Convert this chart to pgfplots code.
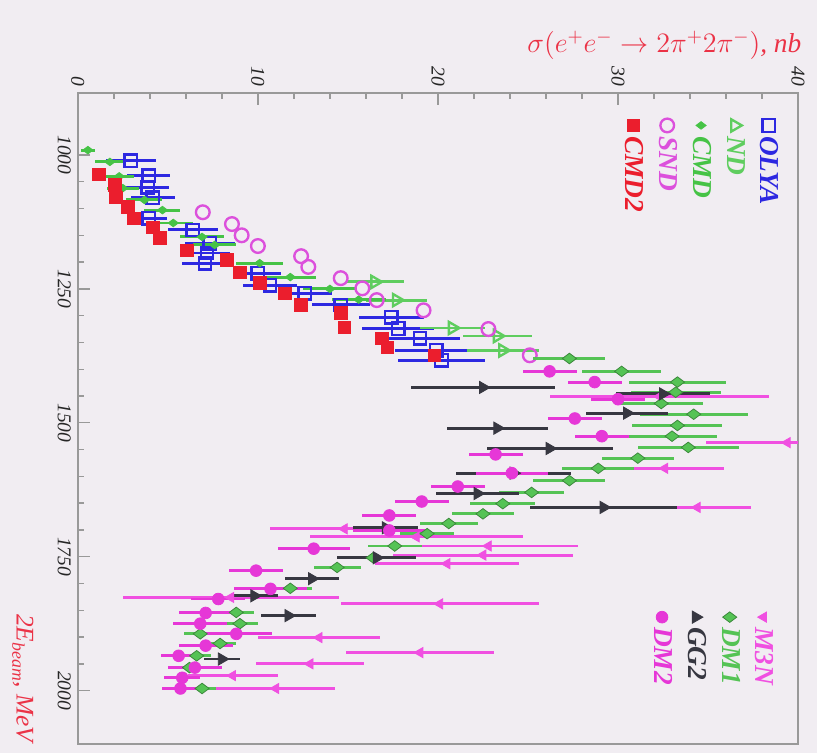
\documentclass[border=0pt]{standalone}
\usepackage{fontspec}
\setmainfont{Liberation Serif}
\usepackage{graphicx}
\usepackage{xcolor}
\usepackage{pgfplots}
\pgfplotsset{compat=1.18}
\usetikzlibrary{backgrounds}

\definecolor{bg}{RGB}{241,237,242}
\definecolor{olya}{RGB}{45,40,225}
\definecolor{ndg}{RGB}{95,205,95}
\definecolor{cmdg}{RGB}{70,195,70}
\definecolor{snd}{RGB}{220,80,220}
\definecolor{cmdtwo}{RGB}{235,30,45}
\definecolor{mthreen}{RGB}{240,80,225}
\definecolor{dmone}{RGB}{85,195,85}
\definecolor{ggtwo}{RGB}{55,55,65}
\definecolor{dmtwo}{RGB}{230,55,215}
\definecolor{ttl}{RGB}{235,50,70}

\pgfplotsset{
  ebar/.style={error bars/.cd, y dir=both, y explicit, error mark=none,
    error bar style={line width=1.5pt}},
}

\begin{document}
\rotatebox{-90}{%
\begin{tikzpicture}[show background rectangle, inner frame sep=0pt,
  background rectangle/.style={fill=bg, draw=none}]
\path[use as bounding box] (0,0) rectangle (135.5mm,147mm);

\begin{axis}[
  at={(16.7mm,14mm)}, anchor=south west,
  scale only axis, width=117.2mm, height=129.6mm,
  xmin=884, xmax=2100, ymin=0, ymax=40,
  xtick={1000,1250,1500,1750,2000}, ytick={0,10,20,30,40},
  minor x tick num=4, minor y tick num=4,
  tick pos=left,
  major tick length=2.2mm, minor tick length=1.2mm,
  axis line style={gray!80, line width=0.9pt},
  every tick/.style={gray!80, line width=0.7pt},
  /pgf/number format/assume math mode=true,
  /pgf/number format/1000 sep={},
  xticklabel style={font=\itshape\fontsize{10}{12}\selectfont, text=gray!30!black},
  yticklabel style={font=\itshape\fontsize{10}{12}\selectfont, text=gray!30!black},
  xlabel={2E\textsubscript{beam}, MeV},
  xlabel style={at={(rel axis cs:1.008,-0.052)}, anchor=north east,
    font=\itshape\fontsize{13}{15}\selectfont, text=ttl},
  ylabel={$\sigma(e^{+}e^{-}\rightarrow 2\pi^{+}2\pi^{-})$, nb},
  ylabel style={at={(rel axis cs:-0.04,1.014)}, anchor=south east,
    font=\itshape\fontsize{14}{16}\selectfont, text=ttl},
  legend style={at={(rel axis cs:0.03,0.985)}, anchor=north west,
    draw=none, fill=none, row sep=0.9mm,
    font=\bfseries\itshape\fontsize{14}{16}\selectfont},
  legend cell align=left,
]
% OLYA
\addplot[only marks, mark=square, mark size=3.2pt, olya, line width=1.2pt, ebar]
coordinates {
(1011,2.94) +- (0,1.4) (1039,3.94) +- (0,1.2) (1060,3.89) +- (0,1.2)
(1080,4.17) +- (0,1.2) (1118,3.94) +- (0,1.0) (1140,6.39) +- (0,1.4)
(1165,7.33) +- (0,1.4) (1183,7.17) +- (0,1.3) (1202,7.06) +- (0,1.3)
(1221,10.0) +- (0,1.3) (1243,10.67) +- (0,1.5) (1258,12.6) +- (0,1.5)
(1280,14.6) +- (0,1.6) (1303,17.4) +- (0,1.8) (1324,17.8) +- (0,2.0)
(1342,19.0) +- (0,2.2) (1365,19.9) +- (0,2.3) (1383,20.2) +- (0,2.4)
};
\addlegendentry{\textcolor{olya}{OLYA}}
% ND
\addplot[only marks, mark=triangle, mark size=3.6pt, ndg, line width=1.2pt, ebar]
coordinates {
(1237,16.5) +- (0,1.6) (1271,17.7) +- (0,1.7) (1323,20.8) +- (0,1.8)
(1338,23.3) +- (0,1.9) (1365,23.6) +- (0,2.0)
};
\addlegendentry{\textcolor{ndg}{ND}}
% CMD
\addplot[only marks, mark=diamond*, mark size=2.6pt, cmdg, ebar]
coordinates {
(991,0.56) +- (0,0.4) (1013,1.78) +- (0,0.8) (1040,2.3) +- (0,0.8)
(1062,2.5) +- (0,0.9) (1084,3.7) +- (0,1.0) (1103,4.7) +- (0,1.0)
(1127,5.3) +- (0,1.1) (1153,6.9) +- (0,1.2) (1168,7.6) +- (0,1.2)
(1202,10.1) +- (0,1.3) (1228,11.8) +- (0,1.4) (1250,14.0) +- (0,1.5)
(1270,15.6) +- (0,1.5)
};
\addlegendentry{\textcolor{cmdg}{CMD}}
% SND
\addplot[only marks, mark=o, mark size=3.5pt, snd, line width=1.2pt]
coordinates {
(1107,6.94) (1129,8.56) (1150,9.1) (1170,10.0) (1189,12.4) (1209,12.8)
(1230,14.6) (1249,15.8) (1271,16.6) (1290,19.2) (1325,22.8) (1374,25.1)
};
\addlegendentry{\textcolor{snd}{SND}}
% CMD2
\addplot[only marks, mark=square*, mark size=3.2pt, cmdtwo]
coordinates {
(1036,1.17) (1056,2.06) (1079,2.11) (1097,2.78) (1118,3.11) (1135,4.17)
(1155,4.56) (1178,6.06) (1196,8.28) (1219,9.0) (1239,10.1) (1258,11.5)
(1280,12.4) (1295,14.6) (1322,14.8) (1342,16.9) (1359,17.2) (1374,19.8)
};
\addlegendentry{\textcolor{cmdtwo}{CMD2}}
\end{axis}

\begin{axis}[
  at={(16.7mm,14mm)}, anchor=south west,
  scale only axis, width=117.2mm, height=129.6mm,
  xmin=884, xmax=2100, ymin=0, ymax=40,
  hide axis,
  legend style={at={(rel axis cs:0.786,0.978)}, anchor=north west,
    draw=none, fill=none, row sep=0.9mm,
    font=\bfseries\itshape\fontsize{14}{16}\selectfont},
  legend cell align=left,
]
% M3N
\addplot[only marks, mark=triangle*, mark options={rotate=180}, mark size=3pt, mthreen, ebar]
coordinates {
(1451,32.3) +- (0,6.1) (1537,39.4) +- (0,4.5) (1585,32.6) +- (0,3.3)
(1658,34.4) +- (0,3.0) (1698,14.8) +- (0,4.1) (1713,18.8) +- (0,5.9)
(1730,22.8) +- (0,5.0) (1747,22.5) +- (0,5.0) (1763,20.5) +- (0,4.0)
(1826,8.5) +- (0,6.0) (1838,20.1) +- (0,5.5)
(1901,13.4) +- (0,3.4) (1929,19.0) +- (0,4.1) (1950,12.9) +- (0,3.0)
(1972,8.6) +- (0,2.5) (1996,11.0) +- (0,3.3)
};
\addlegendentry{\textcolor{mthreen}{M3N}}
% DM1
\addplot[only marks, mark=diamond*, mark size=3.6pt, dmone, mark options={draw=dmone!70!black}, ebar]
coordinates {
(1380,27.3) +- (0,2.0) (1404,30.2) +- (0,2.2) (1424,33.3) +- (0,2.7)
(1443,33.2) +- (0,2.5) (1464,32.4) +- (0,2.3) (1484,34.2) +- (0,3.0)
(1505,33.3) +- (0,2.5) (1525,33.0) +- (0,2.5) (1546,33.9) +- (0,2.8)
(1566,31.1) +- (0,2.0) (1585,28.9) +- (0,2.0) (1608,27.3) +- (0,2.0)
(1630,25.2) +- (0,1.8) (1651,23.6) +- (0,1.8) (1670,22.5) +- (0,1.7)
(1688,20.6) +- (0,1.6) (1707,19.4) +- (0,1.5) (1730,17.6) +- (0,1.5)
(1752,16.4) +- (0,1.4) (1770,14.4) +- (0,1.3) (1809,11.8) +- (0,1.2)
(1854,8.8) +- (0,1.0) (1875,9.0) +- (0,1.0) (1894,6.8) +- (0,0.9)
(1912,7.9) +- (0,0.9) (1935,6.6) +- (0,0.8) (1957,6.2) +- (0,0.8)
(1996,6.9) +- (0,0.8)
};
\addlegendentry{\textcolor{dmone}{DM1}}
% GG2
\addplot[only marks, mark=triangle*, mark size=3.6pt, ggtwo, ebar]
coordinates {
(1434,22.5) +- (0,4.0) (1446,32.5) +- (0,2.6) (1482,30.5) +- (0,2.3)
(1510,23.3) +- (0,2.8) (1548,26.2) +- (0,3.5) (1594,24.2) +- (0,3.2)
(1632,22.2) +- (0,2.3) (1658,29.2) +- (0,4.1) (1696,17.1) +- (0,1.8)
(1752,16.6) +- (0,2.2) (1791,13.0) +- (0,1.5) (1823,9.8) +- (0,1.3)
(1860,11.7) +- (0,1.5) (1941,8.0) +- (0,1.0)
};
\addlegendentry{\textcolor{ggtwo}{GG2}}
% DM2
\addplot[only marks, mark=*, mark size=3pt, dmtwo, ebar]
coordinates {
(1404,26.2) +- (0,1.5) (1424,28.7) +- (0,1.5) (1456,30.0) +- (0,1.5)
(1492,27.6) +- (0,1.5)
(1525,29.1) +- (0,1.5) (1559,23.2) +- (0,1.5) (1594,24.1) +- (0,2.0)
(1619,21.1) +- (0,1.5) (1647,19.1) +- (0,1.5) (1673,17.3) +- (0,1.5)
(1701,17.3) +- (0,2.0) (1735,13.1) +- (0,2.0) (1776,9.9) +- (0,1.5)
(1810,10.7) +- (0,2.0) (1829,7.8) +- (0,1.5) (1855,7.1) +- (0,1.5)
(1875,6.8) +- (0,1.5) (1894,8.8) +- (0,2.0) (1916,7.1) +- (0,1.5)
(1935,5.6) +- (0,1.0) (1957,6.5) +- (0,1.5) (1976,5.8) +- (0,1.0)
(1996,5.7) +- (0,1.0)
};
\addlegendentry{\textcolor{dmtwo}{DM2}}
\end{axis}
\end{tikzpicture}}
\end{document}
